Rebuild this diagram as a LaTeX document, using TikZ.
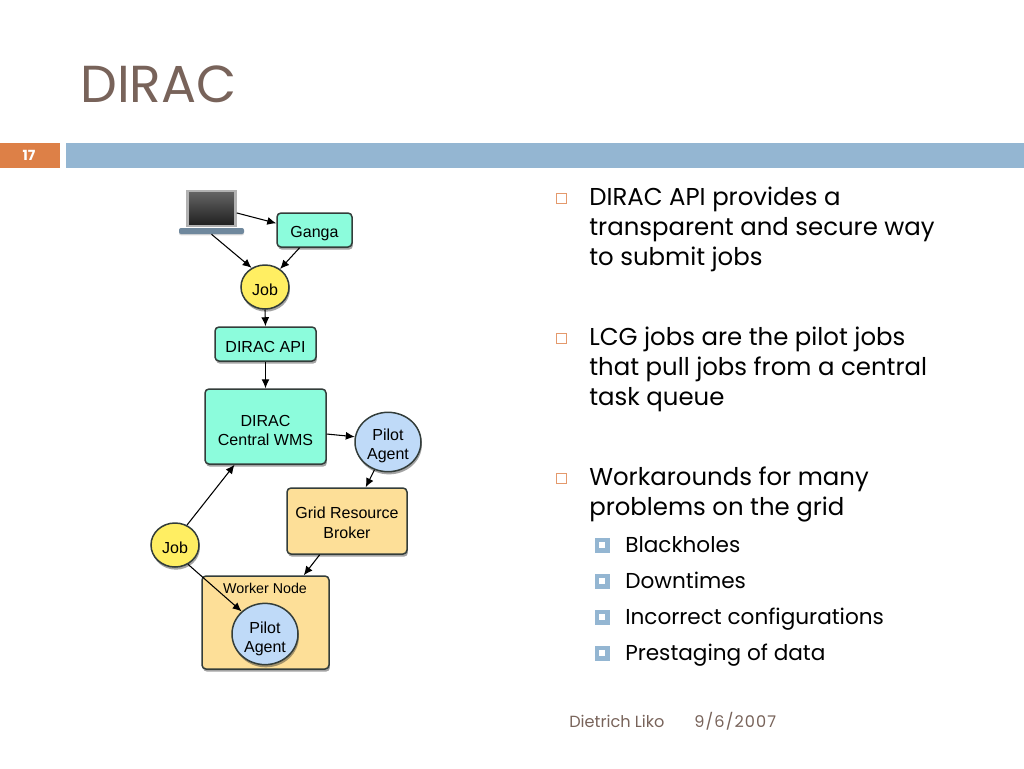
\documentclass[tikz,border=0pt]{standalone}
\usepackage{fontspec}
\setmainfont{Poppins}
\newfontfamily\labelfont{Liberation Sans}
\usetikzlibrary{shapes.geometric}
\usetikzlibrary{shadows}
\usetikzlibrary{arrows.meta}
\definecolor{titlebrown}{HTML}{78635A}
\definecolor{barorange}{HTML}{DD8047}
\definecolor{barblue}{HTML}{94B6D2}
\definecolor{boxteal}{HTML}{8CFCDC}
\definecolor{boxorange}{HTML}{FDDF98}
\definecolor{jobyellow}{HTML}{FFEE62}
\definecolor{agentblue}{HTML}{BFDAF8}
\definecolor{edgegray}{HTML}{333D3A}
\def\px{.75pt}
\tikzset{
diagnode/.style={
  draw=edgegray,
  line width=1.5*\px,
  inner sep=0pt,
  align=center,
  font=\labelfont\fontsize{12}{14.5}\selectfont,
  execute at begin node={\rule{0pt}{13.5pt}},
  drop shadow={opacity=.45,fill=black!80,shadow xshift=.7pt,shadow yshift=-2pt}
  },
twoline/.style={
  execute at begin node={\rule{0pt}{#1}}
  },
boxnode/.style={
  diagnode,
  rectangle,
  rounded corners=4*\px
  },
ellnode/.style={
  diagnode,
  ellipse
  },
bodyline/.style={anchor=base west,inner sep=0pt,text=black,font=\fontsize{18.3}{20}\selectfont},
subline/.style={anchor=base west,inner sep=0pt,text=black,font=\fontsize{16.2}{18}\selectfont},
footline/.style={anchor=base west,inner sep=0pt,text=titlebrown,font=\fontsize{12.1}{14}\selectfont},
bulletmain/.style={draw=barorange!80!white,line width=.75pt,fill=white,minimum size=9.5*\px,inner sep=0pt},
bulletsub/.style={draw=barblue,line width=4.5*\px,fill=white,minimum size=10.5*\px,inner sep=0pt}
}
\begin{document}
\begin{tikzpicture}[x=.75pt,y=-.75pt]
\useasboundingbox (0,0) rectangle (1024,768);
% title and bars
\node[anchor=base west,inner sep=0pt,text=titlebrown,font=\fontsize{39}{44}\selectfont] (title) at (80,102) {DIRAC};
\fill[barorange] (0,143) rectangle (60,168);
\fill[barblue] (66,143) rectangle (1024,168);
\node[text=white,inner sep=0pt,font=\bfseries\fontsize{10.5}{12}\selectfont] (pagenum) at (29,155) {17};
% laptop
\node[rectangle,draw=gray!60,line width=2.5*\px,top color=black!60,bottom color=black!88,minimum width=48*\px,minimum height=35*\px,inner sep=0pt] (laptop) at (211.5,208.5) {};
\node[rectangle,rounded corners=2*\px,fill=barblue!75!black,minimum width=65*\px,minimum height=6*\px,inner sep=0pt,drop shadow={opacity=.3,shadow xshift=0pt,shadow yshift=-1pt}] (lapbase) at (211.5,231) {};
% diagram nodes
\node[boxnode,fill=boxteal,minimum width=75*\px,minimum height=34*\px] (ganga) at (314.5,230) {Ganga};
\node[ellnode,fill=jobyellow,minimum width=48*\px,minimum height=44*\px] (job1) at (265,287) {Job};
\node[boxnode,fill=boxteal,minimum width=101*\px,minimum height=34*\px] (api) at (265.5,344) {DIRAC API};
\node[boxnode,twoline=28.5pt,fill=boxteal,minimum width=121*\px,minimum height=75*\px] (wms) at (265.5,426.5) {DIRAC\\Central WMS};
\node[ellnode,twoline=29pt,fill=agentblue,minimum width=66*\px,minimum height=58*\px] (agent1) at (388,442) {Pilot\\Agent};
\node[boxnode,twoline=26pt,fill=boxorange,minimum width=120*\px,minimum height=66*\px] (broker) at (347,521) {Grid Resource\\Broker};
\node[ellnode,fill=jobyellow,minimum width=48*\px,minimum height=44*\px] (job2) at (175,545) {Job};
\node[boxnode,fill=boxorange,minimum width=127*\px,minimum height=93*\px] (worker) at (265.5,622.5) {};
\node[inner sep=0pt,font=\labelfont\fontsize{10.7}{13}\selectfont] (workerlabel) at (265,588) {Worker Node};
\node[ellnode,twoline=30pt,fill=agentblue,minimum width=66*\px,minimum height=58*\px] (agent2) at (265,634) {Pilot\\Agent};
% connectors
\path[-{Latex[length=9*\px,width=8*\px]},line width=.8pt]
  (laptop.-10) edge (ganga.170)
  (lapbase.south) edge (job1.125)
  (ganga.-130) edge (job1.50)
  (job1.south) edge (api.north)
  (api.south) edge (wms.north)
  (wms.-7) edge (agent1.171)
  (agent1.244) edge (broker.61)
  (broker.231) edge (worker.51)
  (job2.59) edge (wms.231)
  (job2.-56) edge (agent2.136);
% main text
\foreach \Name/\Y/\Text in {a1/205/DIRAC API provides a,a2/235/transparent and secure way,a3/265/to submit jobs,b1/345/LCG jobs are the pilot jobs,b2/375/that pull jobs from a central,b3/405/task queue,c1/485/Workarounds for many,c2/515/problems on the grid}
  \node[bodyline] (\Name) at (589,\Y) {\Text};
\foreach \Name/\Y in {ba/198.5,bb/338.5,bc/478.5}
  \node[bulletmain] (\Name) at (561.5,\Y) {};
\foreach \Name/\Y/\Text in {s1/552/Blackholes,s2/588/Downtimes,s3/624/Incorrect configurations,s4/660/Prestaging of data}{
  \node[subline] (\Name) at (625,\Y) {\Text};
  \node[bulletsub] (b\Name) at (602,\Y-7) {};
}
% footer
\node[footline] (author) at (569,727) {Dietrich Liko};
\node[footline] (date) at (694,727) {\addfontfeature{LetterSpace=7}9/6/2007};
\end{tikzpicture}
\end{document}
